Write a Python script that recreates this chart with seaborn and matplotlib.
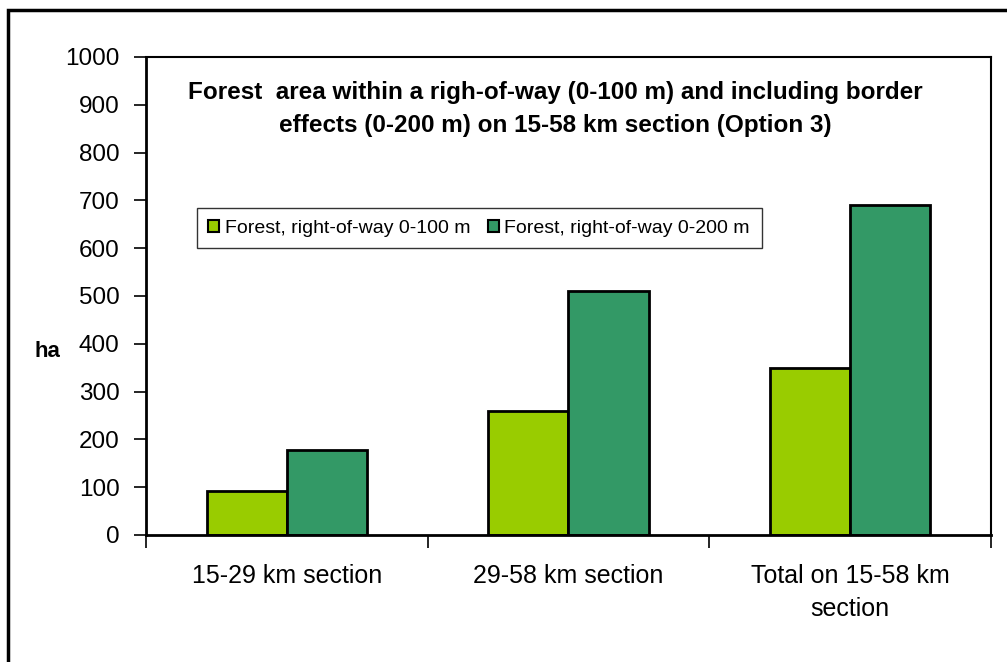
import pandas as pd
import matplotlib.pyplot as plt
import seaborn as sns
from matplotlib.patches import Rectangle

# Data
sections = ["15-29 km section", "29-58 km section", "Total on 15-58 km\nsection"]
series = ["Forest, right-of-way 0-100 m", "Forest, right-of-way 0-200 m"]
row_100 = [92, 259, 349]
row_200 = [178, 510, 690]
colors = ["#99CC00", "#339966"]

df = pd.DataFrame({
    "Section": sections * 2,
    "Series": [series[0]] * 3 + [series[1]] * 3,
    "ha": row_100 + row_200,
})

sns.set_style("white")
plt.rcParams["font.family"] = ["Liberation Sans", "DejaVu Sans"]
plt.rcParams["text.color"] = "black"
plt.rcParams["xtick.color"] = "black"
plt.rcParams["ytick.color"] = "black"
plt.rcParams["axes.labelcolor"] = "black"

fig = plt.figure(figsize=(10.07, 6.62), dpi=100)
ax = fig.add_axes([0.145, 0.192, 0.839, 0.722])

sns.barplot(
    data=df, x="Section", y="ha", hue="Series",
    palette=colors, saturation=1, width=0.57, gap=0,
    edgecolor="black", linewidth=2, ax=ax,
)

ax.set_ylim(0, 1000)
ax.set_xlim(-0.5, 2.5)
ax.set_yticks(range(0, 1001, 100))
ax.tick_params(axis="y", labelsize=17.5, length=9, width=1.2, direction="out", left=True, pad=10)
ax.tick_params(axis="x", which="major", labelsize=18, length=0, pad=21)
for lbl in ax.get_xticklabels():
    lbl.set_linespacing(1.45)
ax.set_xticks([-0.5, 0.5, 1.5, 2.5], minor=True)
ax.tick_params(axis="x", which="minor", length=9, width=1.2, direction="out", bottom=True)
ax.set_xlabel("")
ax.set_ylabel("")
ax.text(-0.117, 0.383, "ha", transform=ax.transAxes, fontsize=16,
        fontweight="bold", ha="center", va="center")

for s in ax.spines.values():
    s.set_color("black")
    s.set_linewidth(1.5)
ax.spines["left"].set_linewidth(2)
ax.spines["bottom"].set_linewidth(2)

ax.text(0.485, 0.891,
        "Forest  area within a righ-of-way (0-100 m) and including border\neffects (0-200 m) on 15-58 km section (Option 3)",
        transform=ax.transAxes, ha="center", va="center", fontsize=17.5,
        fontweight="bold", linespacing=1.6)

leg = ax.legend(loc="upper left", bbox_to_anchor=(0.06, 0.684), ncol=2,
                fontsize=14, frameon=True, fancybox=False,
                handlelength=0.55, handleheight=0.55, handletextpad=0.3,
                columnspacing=0.9, borderpad=0.6, borderaxespad=0)
leg.get_frame().set_edgecolor("black")
leg.get_frame().set_linewidth(1)
for h in leg.legend_handles:
    h.set_linewidth(1.5)

# outer chart border
fig.patches.append(Rectangle((0.008, -0.1), 1.2, 1.085, transform=fig.transFigure,
                             fill=False, edgecolor="black", linewidth=2.5))

plt.savefig("out.png", dpi=100)
plt.close()
